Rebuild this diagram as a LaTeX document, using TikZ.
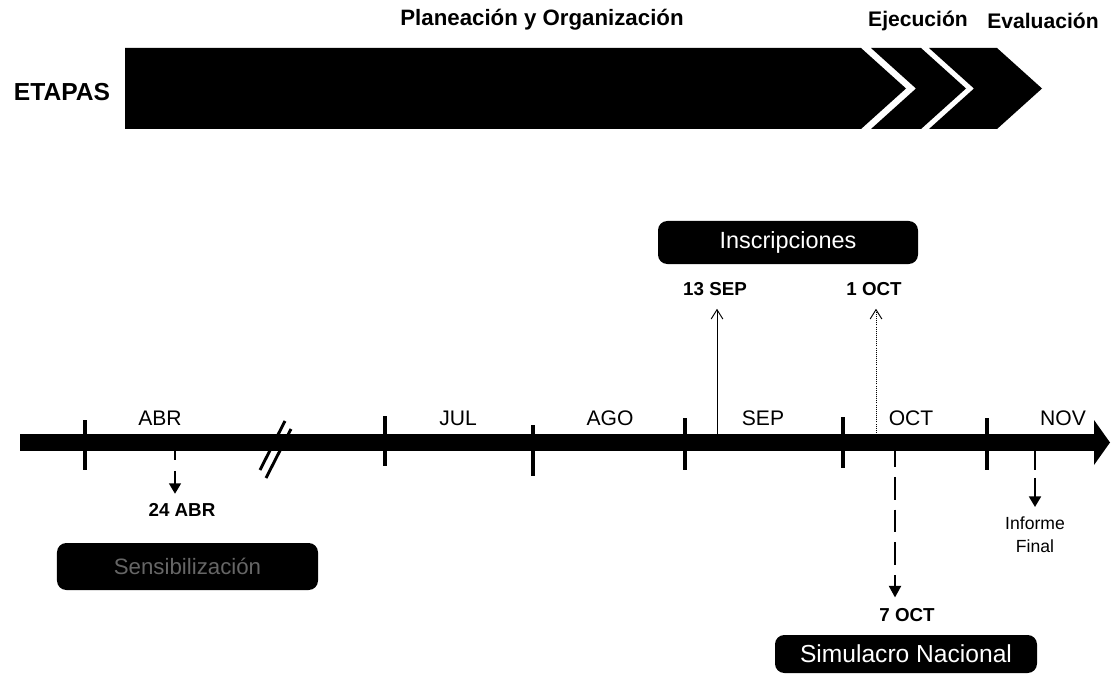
\documentclass[tikz,border=0pt]{standalone}
\usepackage{fontspec}
\setmainfont{Liberation Sans}
\usetikzlibrary{arrows.meta}

\tikzset{
  etapa/.style={font=\bfseries\fontsize{18}{20}\selectfont, inner sep=0pt},
  mes/.style={font=\fontsize{18}{20}\selectfont, inner sep=0pt},
  fecha/.style={font=\bfseries\fontsize{16}{18}\selectfont, inner sep=0pt},
  caja/.style={fill=black, rounded corners=8pt, inner sep=0pt, text=white},
  marca/.style={line width=3pt},
}

\begin{document}
\begin{tikzpicture}[x=0.03cm,y=-0.03cm,>=Stealth]
            \useasboundingbox (0,0) rectangle (1111,678);
            % etapas
            \node[etapa, font=\bfseries\fontsize{21}{23}\selectfont] (etapas) at (62,92) {ETAPAS};
            \fill (125,48) -- (861,48) -- (906,88.5) -- (861,129) -- (125,129) -- cycle;
            \fill (871,48) -- (921,48) -- (966,88.5) -- (921,129) -- (871,129) -- (916,88.5) -- cycle;
            \fill (929,48) -- (997,48) -- (1042,88.5) -- (997,129) -- (929,129) -- (974,88.5) -- cycle;
            \node[etapa, font=\bfseries\fontsize{19}{21}\selectfont] (plan) at (542,20) {Planeación y Organización};
            \node[etapa] (ejec) at (918,21) {Ejecución};
            \node[etapa] (eval) at (1043,21) {Evaluación};
            % linea de tiempo
            \fill (20,434) rectangle (1094,451);
            \fill (1094,420) -- (1110,442.5) -- (1094,465) -- cycle;
            \foreach \x/\a/\b in {85/420/470,385/416/466,533/425/476,685/418/470,843/417/468,987/418/470}
            \draw[marca] (\x,\a) -- (\x,\b);
            \draw[line width=2.5pt] (260,470) -- (285,421);
            \draw[line width=2.5pt] (266,478) -- (291,429);
            \foreach \x/\m in {160/ABR,458/JUL,610/AGO,763/SEP,911/OCT,1063/NOV}
            \node[mes] (m\m) at (\x,418) {\m};
            % fechas
            \coordinate (b24abr) at (175,444);
            \coordinate (b13sep) at (717,435);
            \coordinate (b1oct) at (876,435);
            \coordinate (b7oct) at (895,444);
            \coordinate (bnov) at (1035,444);
            \node[fecha] (abr24) at (182,510) {24 ABR};
            \node[fecha] (sep13) at (715,289) {13 SEP};
            \node[fecha] (oct1) at (874,289) {1 OCT};
            \node[fecha] (oct7) at (907,615) {7 OCT};
            \node[font=\fontsize{15}{19.5}\selectfont, align=center, anchor=north, inner sep=0pt] (informe) at (1035,517) {Informe\\Final};
            \draw[line width=2pt, dash pattern=on 14pt off 9pt, -{Triangle[length=9pt,width=10pt]}, shorten >=8pt] (b24abr) -- (b24abr |- abr24.north);
            \draw[line width=0.8pt, -{Straight Barb[length=8pt,width=10pt]}, shorten >=11pt] (b13sep) -- (b13sep |- sep13.south);
            \draw[line width=0.8pt, densely dotted, -{Straight Barb[length=8pt,width=10pt]}, shorten >=11pt] (b1oct) -- (b1oct |- oct1.south);
            \draw[line width=2.5pt, dash pattern=on 19.5pt off 8.5pt, -{Triangle[length=10pt,width=10pt]}, shorten >=9pt] (b7oct) -- (b7oct |- oct7.north);
            \draw[line width=2pt, dash pattern=on 22pt off 7pt on 100pt off 1pt, -{Triangle[length=9pt,width=10pt]}, shorten >=8.5pt] (bnov) -- (informe.north);
            % cajas
            \node[caja, minimum width=7.83cm, minimum height=1.41cm, text=white!40!black, font=\fontsize{19}{21}\selectfont] (sensib) at (187.5,566.5) {Sensibilización};
            \node[caja, minimum width=7.8cm, minimum height=1.29cm, font=\fontsize{20}{22}\selectfont] (inscr) at (788,242.5) {Inscripciones};
            \node[caja, minimum width=7.86cm, minimum height=1.14cm, font=\fontsize{21}{23}\selectfont] (simul) at (906,654) {Simulacro Nacional};
        \end{tikzpicture}
\end{document}
